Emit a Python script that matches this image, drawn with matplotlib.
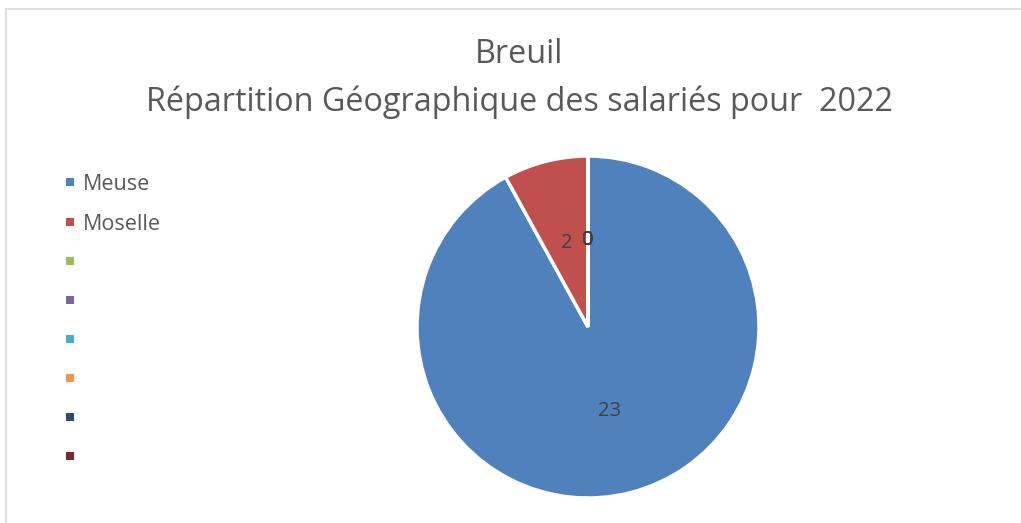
import matplotlib.pyplot as plt
from matplotlib.lines import Line2D
from matplotlib.patches import Rectangle

# Données
regions = ['Meuse', 'Moselle', '', '', '', '', '', '']
salaries = [23, 2, 0, 0, 0, 0, 0, 0]
couleurs = ['#4F81BD', '#C0504D', '#9BBB59', '#8064A2',
            '#4BACC6', '#F79646', '#2C4D75', '#772C2A']
titre1 = 'Breuil'
titre2 = 'Répartition Géographique des salariés pour  2022'

plt.rcParams['font.family'] = ['Open Sans', 'DejaVu Sans']

W, H = 1021, 523
fig = plt.figure(figsize=(W / 100, H / 100), dpi=100)

# cadre gris clair
fig.add_artist(Line2D([6 / W, 6 / W], [0, 1 - 9 / H], color='#D9D9D9', lw=1.2))
fig.add_artist(Line2D([6 / W, 1], [1 - 9 / H, 1 - 9 / H], color='#D9D9D9', lw=1.2))

# camembert
cx, cy, r = 588, 327, 171
ax = fig.add_axes([(cx - r) / W, (H - cy - r) / H, 2 * r / W, 2 * r / H])
total = sum(salaries)
wedges, textes, autotextes = ax.pie(
    salaries, colors=couleurs, startangle=90, counterclock=False,
    autopct=lambda p: f'{p * total / 100:.0f}', pctdistance=0.51,
    wedgeprops=dict(edgecolor='white', linewidth=2.5),
    textprops=dict(color='#404040', fontsize=14.5))
ax.set_xlim(-1, 1)
ax.set_ylim(-1, 1)
ax.set_aspect('equal')

# titre
fig.text(519 / W, 1 - 63 / H, titre1, ha='center', va='baseline',
         fontsize=23.3, color='#595959')
fig.text(519 / W, 1 - 111 / H, titre2, ha='center', va='baseline',
         fontsize=23.3, color='#595959')

# légende
for i, (nom, c) in enumerate(zip(regions, couleurs)):
    y = 182.5 + i * 39.1
    fig.add_artist(Rectangle((66 / W, 1 - (y + 4) / H), 8 / W, 8 / H,
                             facecolor=c, edgecolor='none'))
    fig.text(83 / W, 1 - (y + 8) / H, nom, ha='left', va='baseline',
             fontsize=15.5, color='#595959')

plt.savefig('out.png')
